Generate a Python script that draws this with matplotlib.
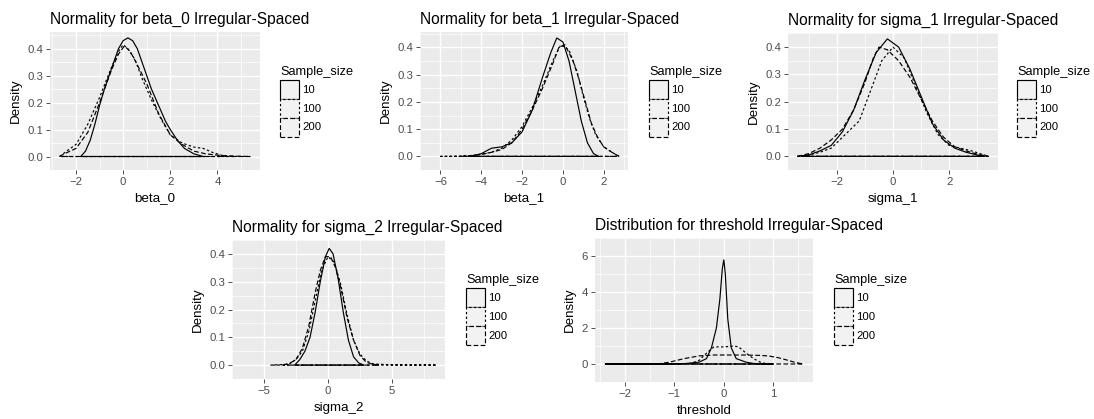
import matplotlib
matplotlib.use('Agg')
import matplotlib.pyplot as plt
from matplotlib.patches import Rectangle
import numpy as np

plt.rcParams['font.family'] = ['Liberation Sans', 'DejaVu Sans']

sample_sizes = ['10', '100', '200']

# beta_0
b0_x_10 = [-1.8, -1.6, -1.4, -1.2, -1.0, -0.8, -0.6, -0.4, -0.2, 0.0, 0.2, 0.4, 0.6, 0.8, 1.0, 1.2, 1.4, 1.6, 1.8, 2.0, 2.3, 2.6, 3.0, 3.4]
b0_y_10 = [0.0, 0.02, 0.06, 0.12, 0.19, 0.25, 0.30, 0.35, 0.40, 0.43, 0.44, 0.43, 0.40, 0.35, 0.30, 0.25, 0.21, 0.17, 0.13, 0.10, 0.06, 0.03, 0.01, 0.0]
b0_x_100 = [-2.7, -2.4, -2.0, -1.5, -1.0, -0.5, -0.2, 0.0, 0.2, 0.5, 0.8, 1.2, 1.6, 2.0, 2.5, 3.0, 3.4, 3.8, 4.2, 4.7]
b0_y_100 = [0.0, 0.02, 0.045, 0.12, 0.22, 0.33, 0.39, 0.415, 0.40, 0.36, 0.29, 0.21, 0.14, 0.08, 0.05, 0.035, 0.03, 0.015, 0.004, 0.0]
b0_x_200 = [-2.7, -2.5, -2.0, -1.5, -1.0, -0.5, -0.2, 0.05, 0.3, 0.6, 1.0, 1.5, 2.0, 2.5, 3.0, 3.5, 4.0, 4.5, 5.4]
b0_y_200 = [0.0, 0.01, 0.03, 0.09, 0.20, 0.32, 0.38, 0.41, 0.39, 0.34, 0.27, 0.16, 0.08, 0.045, 0.02, 0.01, 0.005, 0.002, 0.0]

# beta_1
b1_x_10 = [-4.5, -4.0, -3.5, -3.0, -2.5, -2.0, -1.5, -1.0, -0.6, -0.3, 0.0, 0.3, 0.6, 0.9, 1.2, 1.5, 1.75]
b1_y_10 = [0.0, 0.01, 0.03, 0.035, 0.05, 0.09, 0.17, 0.29, 0.38, 0.435, 0.42, 0.35, 0.24, 0.13, 0.05, 0.01, 0.0]
b1_x_100 = [-6.0, -5.0, -4.5, -4.0, -3.5, -3.0, -2.5, -2.0, -1.5, -1.0, -0.5, -0.1, 0.3, 0.7, 1.0, 1.3, 1.6, 2.0, 2.4, 2.75]
b1_y_100 = [0.0, 0.001, 0.003, 0.008, 0.015, 0.03, 0.06, 0.11, 0.18, 0.26, 0.35, 0.41, 0.39, 0.31, 0.22, 0.14, 0.08, 0.035, 0.015, 0.0]
b1_x_200 = [-5.0, -4.5, -4.0, -3.5, -3.0, -2.5, -2.0, -1.5, -1.0, -0.5, -0.2, 0.1, 0.5, 0.8, 1.1, 1.4, 1.7, 2.0, 2.4, 2.75]
b1_y_200 = [0.0, 0.003, 0.007, 0.015, 0.025, 0.05, 0.10, 0.17, 0.25, 0.34, 0.40, 0.41, 0.35, 0.28, 0.20, 0.12, 0.07, 0.035, 0.015, 0.0]

# sigma_1
s1_x_10 = [-3.3, -3.0, -2.6, -2.2, -1.8, -1.4, -1.0, -0.6, -0.2, 0.2, 0.6, 1.0, 1.4, 1.8, 2.2, 2.6, 3.0, 3.3]
s1_y_10 = [0.0, 0.005, 0.02, 0.04, 0.09, 0.17, 0.28, 0.38, 0.43, 0.40, 0.32, 0.22, 0.12, 0.06, 0.03, 0.015, 0.005, 0.0]
s1_x_100 = [-3.4, -3.0, -2.6, -2.2, -1.8, -1.5, -1.2, -0.8, -0.4, 0.0, 0.4, 0.8, 1.2, 1.6, 2.0, 2.4, 2.8, 3.4]
s1_y_100 = [0.0, 0.005, 0.015, 0.03, 0.07, 0.10, 0.13, 0.24, 0.35, 0.40, 0.36, 0.26, 0.16, 0.08, 0.04, 0.03, 0.02, 0.0]
s1_x_200 = [-3.4, -3.0, -2.6, -2.2, -1.8, -1.4, -1.0, -0.7, -0.5, -0.2, 0.2, 0.6, 1.0, 1.4, 1.8, 2.2, 2.6, 3.0, 3.4]
s1_y_200 = [0.0, 0.01, 0.03, 0.06, 0.10, 0.17, 0.27, 0.36, 0.40, 0.39, 0.35, 0.29, 0.21, 0.13, 0.07, 0.035, 0.02, 0.008, 0.0]

# sigma_2
s2_x_10 = [-2.6, -2.2, -1.8, -1.4, -1.0, -0.6, -0.2, 0.1, 0.4, 0.8, 1.2, 1.6, 2.0, 2.4, 2.8]
s2_y_10 = [0.0, 0.02, 0.05, 0.10, 0.19, 0.30, 0.39, 0.42, 0.40, 0.31, 0.19, 0.09, 0.03, 0.008, 0.0]
s2_x_100 = [-4.5, -3.5, -3.0, -2.5, -2.0, -1.5, -1.0, -0.5, 0.0, 0.5, 1.0, 1.5, 2.0, 2.5, 3.0, 3.5, 4.0, 4.6, 6.0, 8.5]
s2_y_100 = [0.0, 0.002, 0.005, 0.02, 0.05, 0.12, 0.23, 0.34, 0.39, 0.37, 0.29, 0.18, 0.09, 0.04, 0.015, 0.005, 0.003, 0.002, 0.0005, 0.0]
s2_x_200 = [-3.5, -3.0, -2.5, -2.0, -1.5, -1.0, -0.6, -0.2, 0.2, 0.6, 1.0, 1.5, 2.0, 2.5, 3.0, 3.5, 4.0]
s2_y_200 = [0.0, 0.006, 0.02, 0.06, 0.14, 0.26, 0.34, 0.39, 0.39, 0.35, 0.28, 0.17, 0.09, 0.035, 0.01, 0.003, 0.0]

# threshold
th_x_10 = [-2.4, -1.5, -0.8, -0.5, -0.35, -0.25, -0.15, -0.08, -0.03, 0.0, 0.03, 0.08, 0.15, 0.25, 0.35, 0.45, 0.6, 0.8, 1.0]
th_y_10 = [0.0, 0.001, 0.02, 0.1, 0.3, 0.9, 2.0, 3.6, 5.3, 5.8, 5.0, 2.5, 0.9, 0.3, 0.2, 0.1, 0.03, 0.01, 0.0]
th_x_100 = [-0.7, -0.5, -0.35, -0.2, 0.0, 0.2, 0.3, 0.45, 0.6, 0.75, 0.9]
th_y_100 = [0.0, 0.2, 0.6, 0.95, 0.95, 1.0, 0.95, 0.6, 0.3, 0.08, 0.0]
th_x_200 = [-1.35, -1.1, -0.8, -0.5, -0.2, 0.1, 0.4, 0.7, 0.9, 1.1, 1.3, 1.45, 1.6]
th_y_200 = [0.0, 0.1, 0.3, 0.45, 0.5, 0.5, 0.5, 0.48, 0.45, 0.35, 0.2, 0.08, 0.0]

W, H = 1094, 419
fig = plt.figure(figsize=(W / 100, H / 100), dpi=100)

styles = ['-', (0, (2, 2)), (0, (4, 2))]
lw = 0.85
panel_bg = '#EBEBEB'


def add_panel(box, title, xlabel, curves, xticks, yticks, ylabfmt, legend_xy):
    x0, y0, x1, y1 = box
    ax = fig.add_axes([x0 / W, 1 - y1 / H, (x1 - x0) / W, (y1 - y0) / H])
    ax.set_facecolor(panel_bg)
    allx = np.concatenate([c[0] for c in curves])
    ally = np.concatenate([c[1] for c in curves])
    xr = allx.max() - allx.min()
    yr = ally.max() - ally.min()
    ax.set_xlim(allx.min() - 0.05 * xr, allx.max() + 0.05 * xr)
    ax.set_ylim(ally.min() - 0.05 * yr, ally.max() + 0.05 * yr)

    ax.set_xticks(xticks)
    ax.set_yticks(yticks)
    ax.set_yticklabels([ylabfmt.format(v) for v in yticks])
    dx = xticks[1] - xticks[0]
    dy = yticks[1] - yticks[0]
    ax.set_xticks([xticks[0] - dx / 2] + [v + dx / 2 for v in xticks], minor=True)
    ax.set_yticks([yticks[0] - dy / 2] + [v + dy / 2 for v in yticks], minor=True)
    ax.grid(which='major', color='white', linewidth=1.0)
    ax.grid(which='minor', color='white', linewidth=0.5)
    ax.set_axisbelow(True)
    ax.tick_params(which='minor', length=0)
    ax.tick_params(which='major', length=3, width=0.6, color='#333333',
                   labelsize=8.2, labelcolor='#4D4D4D', pad=2)
    for s in ax.spines.values():
        s.set_visible(False)

    for (cx, cy), ls in zip(curves, styles):
        ax.fill(cx, cy, facecolor='none', edgecolor='black', linestyle=ls, linewidth=lw)

    ax.set_title(title, fontsize=11.2, loc='left', pad=6, x=0)
    ax.set_xlabel(xlabel, fontsize=9.6, labelpad=4)
    ax.set_ylabel('Density', fontsize=9.6, labelpad=4)

    # legend drawn by hand in pixel coords
    lx, ly = legend_xy
    fig.text(lx / W, 1 - ly / H, 'Sample_size', fontsize=9.2, va='center', ha='left')
    kh = 19
    for i, (lab, ls) in enumerate(zip(sample_sizes, styles)):
        top = ly + 8 + i * kh
        fig.patches.append(Rectangle((lx / W, 1 - (top + kh) / H), 19 / W, kh / H,
                                     transform=fig.transFigure, facecolor='#F2F2F2',
                                     edgecolor='black', linestyle=ls, linewidth=lw))
        fig.text((lx + 22) / W, 1 - (top + kh / 2) / H, lab, fontsize=8.2, va='center', ha='left')
    return ax


add_panel((50, 32, 260, 170), 'Normality for beta_0 Irregular-Spaced', 'beta_0',
          [(b0_x_10, b0_y_10), (b0_x_100, b0_y_100), (b0_x_200, b0_y_200)],
          [-2, 0, 2, 4], [0.0, 0.1, 0.2, 0.3, 0.4], '{:.1f}', (280, 72))
add_panel((420, 32, 628, 170), 'Normality for beta_1 Irregular-Spaced', 'beta_1',
          [(b1_x_10, b1_y_10), (b1_x_100, b1_y_100), (b1_x_200, b1_y_200)],
          [-6, -4, -2, 0, 2], [0.0, 0.1, 0.2, 0.3, 0.4], '{:.1f}', (649, 72))
add_panel((788, 33, 998, 170), 'Normality for sigma_1 Irregular-Spaced', 'sigma_1',
          [(s1_x_10, s1_y_10), (s1_x_100, s1_y_100), (s1_x_200, s1_y_200)],
          [-2, 0, 2], [0.0, 0.1, 0.2, 0.3, 0.4], '{:.1f}', (1017, 72))
add_panel((232, 240, 445, 379), 'Normality for sigma_2 Irregular-Spaced', 'sigma_2',
          [(s2_x_10, s2_y_10), (s2_x_100, s2_y_100), (s2_x_200, s2_y_200)],
          [-5, 0, 5], [0.0, 0.1, 0.2, 0.3, 0.4], '{:.1f}', (466, 280))
add_panel((595, 238, 813, 382), 'Distribution for threshold Irregular-Spaced', 'threshold',
          [(th_x_10, th_y_10), (th_x_100, th_y_100), (th_x_200, th_y_200)],
          [-2, -1, 0, 1], [0, 2, 4, 6], '{:d}', (834, 280))

fig.savefig('out.png', dpi=100)
